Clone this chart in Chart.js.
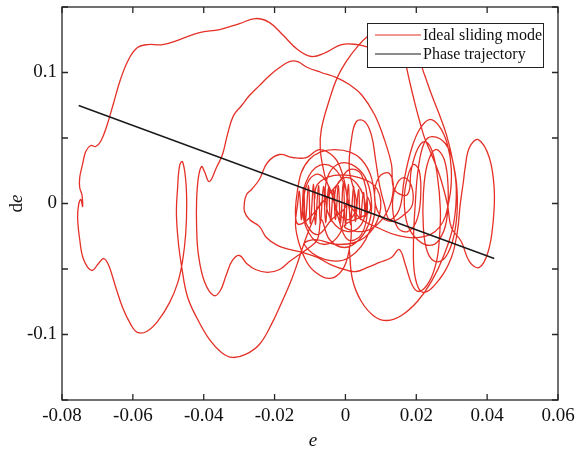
<!DOCTYPE html>
<html>
<head>
<meta charset="utf-8">
<script src="https://cdn.jsdelivr.net/npm/chart.js@4.4.0/dist/chart.umd.min.js"></script>
<style>
  html, body { margin: 0; padding: 0; background: #fff; }
  canvas { display: block; }
</style>
</head>
<body>
<canvas id="phase-chart" width="576" height="450"></canvas>
<script>
// e / de samples, one array pair per stretch of the red curve
const outerE = [0.0011, 0.0020, 0.0045, 0.0082, 0.0118, 0.0158, 0.0203, 0.0243, 0.0279, 0.0305,
  0.0313, 0.0302, 0.0285, 0.0265, 0.0243, 0.0223, 0.0209, 0.0186, 0.0152, 0.0110,
  0.0073, 0.0034, -0.0011, -0.0056, -0.0096, -0.0135, -0.0175, -0.0214, -0.0254, -0.0299,
  -0.0355, -0.0412, -0.0468, -0.0516, -0.0558, -0.0587, -0.0612, -0.0635, -0.0654, -0.0674,
  -0.0691, -0.0705, -0.0719, -0.0733, -0.0742, -0.0750, -0.0750, -0.0744, -0.0742, -0.0742,
  -0.0747, -0.0753, -0.0756, -0.0750, -0.0739, -0.0716, -0.0697, -0.0682, -0.0668, -0.0649,
  -0.0629, -0.0606, -0.0587, -0.0561, -0.0530, -0.0496, -0.0474, -0.0460, -0.0451, -0.0448,
  -0.0451, -0.0460, -0.0468, -0.0474, -0.0477, -0.0471, -0.0462, -0.0446, -0.0420, -0.0384,
  -0.0350, -0.0319, -0.0282, -0.0243, -0.0209, -0.0180, -0.0152, -0.0130, -0.0113, -0.0093,
  -0.0073, -0.0045];
const outerDe = [-0.0351, -0.0580, -0.0748, -0.0862, -0.0893, -0.0855, -0.0748, -0.0595, -0.0389, -0.0160,
  0.0107, 0.0336, 0.0526, 0.0679, 0.0832, 0.0984, 0.1083, 0.1160, 0.1190, 0.1198,
  0.1190, 0.1213, 0.1213, 0.1152, 0.1122, 0.1175, 0.1282, 0.1381, 0.1412, 0.1373,
  0.1328, 0.1305, 0.1251, 0.1213, 0.1213, 0.1190, 0.1099, 0.0946, 0.0771, 0.0588,
  0.0473, 0.0435, 0.0443, 0.0397, 0.0298, 0.0198, 0.0122, 0.0069, 0.0023, -0.0023,
  0.0031, -0.0008, -0.0107, -0.0275, -0.0427, -0.0511, -0.0458, -0.0420, -0.0473, -0.0633,
  -0.0794, -0.0923, -0.0984, -0.0977, -0.0900, -0.0755, -0.0610, -0.0443, -0.0237, -0.0008,
  0.0183, 0.0320, 0.0290, 0.0107, -0.0084, -0.0313, -0.0488, -0.0710, -0.0870, -0.1038,
  -0.1137, -0.1175, -0.1152, -0.1076, -0.0923, -0.0755, -0.0580, -0.0412, -0.0275, -0.0137,
  -0.0008, 0.0069];

const riseE = [-0.0059, -0.0071, -0.0068, -0.0045, -0.0023, 0.0006, 0.0034, 0.0059, 0.0096, 0.0130,
  0.0152, 0.0166, 0.0180, 0.0197, 0.0212, 0.0223, 0.0237, 0.0265, 0.0288];
const riseDe = [0.0221, 0.0412, 0.0565, 0.0794, 0.0961, 0.1099, 0.1198, 0.1267, 0.1328, 0.1320,
  0.1236, 0.1114, 0.0946, 0.0755, 0.0603, 0.0504, 0.0412, 0.0221, -0.0008];

const rightE = [0.0299, 0.0327, 0.0350, 0.0378, 0.0403, 0.0417, 0.0420, 0.0406, 0.0375, 0.0350,
  0.0338, 0.0333, 0.0324, 0.0316, 0.0299, 0.0265, 0.0220, 0.0197, 0.0192, 0.0197,
  0.0206, 0.0223, 0.0245, 0.0282, 0.0305, 0.0316, 0.0307, 0.0282, 0.0254, 0.0231,
  0.0220, 0.0220, 0.0231, 0.0254, 0.0279, 0.0290, 0.0285, 0.0265, 0.0237, 0.0203,
  0.0175, 0.0166, 0.0175, 0.0192, 0.0209, 0.0212, 0.0200, 0.0175, 0.0147, 0.0133,
  0.0141, 0.0164, 0.0186, 0.0189];
const rightDe = [-0.0183, -0.0290, -0.0443, -0.0488, -0.0366, -0.0137, 0.0107, 0.0351, 0.0488, 0.0427,
  0.0275, 0.0168, -0.0008, -0.0214, -0.0412, -0.0580, -0.0679, -0.0565, -0.0313, -0.0008,
  0.0275, 0.0465, 0.0511, 0.0458, 0.0298, 0.0031, -0.0237, -0.0412, -0.0443, -0.0366,
  -0.0183, 0.0069, 0.0298, 0.0412, 0.0336, 0.0107, -0.0137, -0.0275, -0.0320, -0.0275,
  -0.0160, 0.0031, 0.0198, 0.0298, 0.0244, 0.0031, -0.0137, -0.0214, -0.0183, -0.0031,
  0.0122, 0.0198, 0.0137, -0.0008];

const centerE = [0.0166, 0.0130, 0.0096, 0.0082, 0.0096, 0.0124, 0.0135, 0.0118, 0.0079, 0.0034, -0.0003,
  0.0068, 0.0062, 0.0056, 0.0051, 0.0042, 0.0037, 0.0028, 0.0023, 0.0014, 0.0008, 0.0000, -0.0006, -0.0014, -0.0020,
  -0.0028, -0.0034, -0.0042, -0.0048, -0.0056, -0.0062, -0.0071, -0.0076, -0.0085, -0.0090, -0.0099, -0.0104, -0.0113, -0.0118, -0.0124, -0.0130,
  -0.0135, -0.0141, -0.0130, -0.0110, -0.0087, -0.0045, -0.0008, 0.0011, 0.0017, 0.0006, -0.0008, -0.0031, -0.0073, -0.0110, -0.0149,
  -0.0186, -0.0220, -0.0243, -0.0265, -0.0279, -0.0285, -0.0285, -0.0271, -0.0243, -0.0223, -0.0192, -0.0158, -0.0121, -0.0079, -0.0037, 0.0006, 0.0031, 0.0062, 0.0096, 0.0130, 0.0152,
  0.0169, 0.0189, 0.0209, 0.0237, 0.0257, 0.0265, 0.0268, 0.0259, 0.0243, 0.0223, 0.0203, 0.0186, 0.0175];
const centerDe = [-0.0084, -0.0137, -0.0084, 0.0069, 0.0206, 0.0229, 0.0107, -0.0061, -0.0183, -0.0214, -0.0168,
  -0.0061, 0.0046, -0.0099, 0.0084, -0.0122, 0.0107, -0.0137, 0.0130, -0.0160, 0.0145, -0.0168, 0.0153, -0.0153, 0.0137,
  -0.0122, 0.0107, -0.0137, 0.0122, -0.0145, 0.0130, -0.0153, 0.0137, -0.0160, 0.0145, -0.0153, 0.0137, -0.0137, 0.0122, -0.0122, 0.0092,
  -0.0008, -0.0160, -0.0313, -0.0443, -0.0519, -0.0572, -0.0504, -0.0351, -0.0183, 0.0031, 0.0221, 0.0351, 0.0412, 0.0351, 0.0351,
  0.0374, 0.0313, 0.0183, 0.0107, 0.0069, 0.0008, -0.0061, -0.0122, -0.0175, -0.0259, -0.0320, -0.0351, -0.0374, -0.0412, -0.0473, -0.0511, -0.0519, -0.0488, -0.0450, -0.0412, -0.0351,
  -0.0465, -0.0626, -0.0671, -0.0595, -0.0443, -0.0275, -0.0046, 0.0221, 0.0412, 0.0473, 0.0412, 0.0259, 0.0069];

const upperE = [0.0138, 0.0130, 0.0110, 0.0082, 0.0045, 0.0011, -0.0025, -0.0068, -0.0107, -0.0135,
  -0.0158, -0.0186, -0.0214, -0.0243, -0.0271, -0.0293, -0.0316, -0.0333, -0.0347, -0.0364,
  -0.0384, -0.0398, -0.0406, -0.0415, -0.0420, -0.0420, -0.0415, -0.0398, -0.0372, -0.0353,
  -0.0336, -0.0319, -0.0299, -0.0279, -0.0254, -0.0220, -0.0186, -0.0158, -0.0130, -0.0102,
  -0.0079, -0.0068];
const upperDe = [0.0107, 0.0298, 0.0488, 0.0679, 0.0832, 0.0908, 0.0961, 0.1000, 0.1038, 0.1083,
  0.1083, 0.1038, 0.0977, 0.0900, 0.0824, 0.0748, 0.0671, 0.0526, 0.0374, 0.0275,
  0.0168, 0.0244, 0.0282, 0.0198, 0.0031, -0.0183, -0.0389, -0.0595, -0.0702, -0.0664,
  -0.0542, -0.0435, -0.0397, -0.0458, -0.0504, -0.0526, -0.0504, -0.0443, -0.0389, -0.0336,
  -0.0275, -0.0122];

const coreE = [-0.0045, -0.0003, 0.0039, 0.0068, 0.0073, 0.0056, 0.0017, -0.0023, -0.0051, -0.0056,
  -0.0037, 0.0006, 0.0045, 0.0056, 0.0034, -0.0003, -0.0028, -0.0023, 0.0011, 0.0031,
  0.0011, 0.0017, 0.0031, 0.0054, 0.0073, 0.0085, 0.0096, 0.0110, 0.0124, 0.0152,
  0.0166, 0.0186, 0.0209, 0.0237, 0.0265, 0.0288, 0.0299, 0.0293];
const coreDe = [-0.0275, -0.0336, -0.0275, -0.0137, 0.0031, 0.0198, 0.0298, 0.0298, 0.0198, 0.0031,
  -0.0137, -0.0214, -0.0160, -0.0008, 0.0145, 0.0198, 0.0107, -0.0061, -0.0122, -0.0008,
  0.0259, 0.0488, 0.0626, 0.0626, 0.0526, 0.0336, 0.0145, -0.0008, -0.0122, -0.0046,
  0.0183, 0.0412, 0.0565, 0.0641, 0.0588, 0.0450, 0.0259, 0.0031];

const swirlE = [0.0265, 0.0209, 0.0147, 0.0090, 0.0045,
  0.0003, -0.0014, -0.0059, -0.0104, -0.0121, -0.0104, -0.0059, -0.0014, 0.0003,
  -0.0039, -0.0079, -0.0113, -0.0118, -0.0102, -0.0073, -0.0045,
  -0.0023, 0.0006, 0.0045, 0.0062, 0.0045, 0.0011, -0.0023,
  -0.0130, -0.0135, -0.0102, -0.0031, 0.0045, 0.0082, 0.0068, 0.0011, -0.0059, -0.0116,
  -0.0087, -0.0017, 0.0054, 0.0096, 0.0090, 0.0039, -0.0031, -0.0079, -0.0087];
const swirlDe = [-0.0183, -0.0259, -0.0244, -0.0183, -0.0122,
  -0.0008, -0.0221, -0.0313, -0.0221, -0.0008, 0.0206, 0.0298, 0.0206, -0.0008,
  -0.0122, -0.0237, -0.0137, 0.0031, 0.0183, 0.0221, 0.0122,
  -0.0084, -0.0275, -0.0237, -0.0008, 0.0221, 0.0259, 0.0145,
  -0.0160, 0.0107, 0.0336, 0.0412, 0.0336, 0.0069, -0.0214, -0.0412, -0.0427, -0.0313,
  -0.0275, -0.0313, -0.0259, -0.0084, 0.0107, 0.0198, 0.0214, 0.0145, 0.0031];

// black straight line
const phaseE = [-0.0753, 0.0420];
const phaseDe = [0.0748, -0.0420];

const labeledDe = [-0.1, 0, 0.1];

const serif = "'Liberation Serif', 'Times New Roman', serif";
const red = 'rgb(228, 48, 38)';

const toPoints = (es, ds) => es.map((e, i) => ({ x: e, y: ds[i] }));
const slidingPoints = [
  ...toPoints(outerE, outerDe),
  ...toPoints(riseE, riseDe),
  ...toPoints(rightE, rightDe),
  ...toPoints(centerE, centerDe),
  ...toPoints(upperE, upperDe),
  ...toPoints(coreE, coreDe),
  ...toPoints(swirlE, swirlDe),
];
const phasePoints = toPoints(phaseE, phaseDe);

const fmt = v => {
  const r = Math.round(v * 100) / 100;
  return r === 0 ? '0' : String(r);
};

// box, inward ticks, legend and axis titles
const framePlugin = {
  id: 'frame',
  afterDraw(chart) {
    const { ctx, chartArea: a, scales: { x, y } } = chart;
    ctx.save();
    ctx.strokeStyle = '#262626';
    ctx.lineWidth = 1.3;
    ctx.strokeRect(a.left, a.top, a.right - a.left, a.bottom - a.top);
    ctx.beginPath();
    x.ticks.forEach(t => {
      const p = x.getPixelForValue(t.value);
      ctx.moveTo(p, a.bottom); ctx.lineTo(p, a.bottom - 6);
      ctx.moveTo(p, a.top); ctx.lineTo(p, a.top + 6);
    });
    y.ticks.forEach(t => {
      const p = y.getPixelForValue(t.value);
      ctx.moveTo(a.left, p); ctx.lineTo(a.left + 6, p);
      ctx.moveTo(a.right, p); ctx.lineTo(a.right - 6, p);
    });
    ctx.stroke();

    // legend box
    const bx = a.right - 191, by = a.top + 16, bw = 176, bh = 44;
    ctx.fillStyle = '#fff';
    ctx.fillRect(bx, by, bw, bh);
    ctx.lineWidth = 1;
    ctx.strokeStyle = '#222';
    ctx.strokeRect(bx + 0.5, by + 0.5, bw, bh);
    ctx.font = `16px ${serif}`;
    ctx.textAlign = 'left';
    ctx.textBaseline = 'middle';
    chart.data.datasets.forEach((ds, i) => {
      const ly = by + 12 + i * 19;
      ctx.beginPath();
      ctx.strokeStyle = ds.borderColor;
      ctx.lineWidth = 1.2;
      ctx.moveTo(bx + 8, ly);
      ctx.lineTo(bx + 54, ly);
      ctx.stroke();
      ctx.fillStyle = '#111';
      ctx.fillText(ds.label, bx + 56, ly + 1);
    });

    // axis titles
    ctx.fillStyle = '#111';
    ctx.textBaseline = 'alphabetic';
    ctx.textAlign = 'center';
    ctx.font = `italic 19px ${serif}`;
    ctx.fillText('e', (a.left + a.right) / 2 + 3, 446);

    ctx.translate(22, (a.top + a.bottom) / 2);
    ctx.rotate(-Math.PI / 2);
    ctx.textAlign = 'left';
    ctx.font = `19px ${serif}`;
    const wd = ctx.measureText('d').width;
    ctx.font = `italic 19px ${serif}`;
    const we = ctx.measureText('e').width;
    const sx = -(wd + we) / 2;
    ctx.font = `19px ${serif}`;
    ctx.fillText('d', sx, 0);
    ctx.font = `italic 19px ${serif}`;
    ctx.fillText('e', sx + wd, 0);
    ctx.restore();
  }
};

new Chart(document.getElementById('phase-chart'), {
  type: 'scatter',
  data: {
    datasets: [
      {
        label: 'Ideal sliding mode',
        data: slidingPoints,
        showLine: true,
        borderColor: red,
        borderWidth: 1.3,
        pointRadius: 0,
        tension: 0.4,
        order: 2,
      },
      {
        label: 'Phase trajectory',
        data: phasePoints,
        showLine: true,
        borderColor: '#1a1a1a',
        borderWidth: 1.4,
        pointRadius: 0,
        order: 1,
      },
    ],
  },
  options: {
    responsive: false,
    animation: false,
    devicePixelRatio: 1,
    layout: { padding: { left: 0, right: 18, top: 7, bottom: 0 } },
    plugins: { legend: { display: false }, tooltip: { enabled: false } },
    scales: {
      x: {
        type: 'linear',
        min: -0.08,
        max: 0.06,
        grid: { display: false, drawTicks: false },
        border: { display: false },
        ticks: {
          stepSize: 0.02,
          maxRotation: 0,
          autoSkip: false,
          padding: 5,
          color: '#111',
          font: { family: serif, size: 19 },
          callback: v => fmt(v),
        },
        afterFit: s => { s.height = 50; s.paddingLeft = 0; s.paddingRight = 0; },
      },
      y: {
        type: 'linear',
        min: -0.15,
        max: 0.15,
        grid: { display: false, drawTicks: false },
        border: { display: false },
        ticks: {
          stepSize: 0.05,
          autoSkip: false,
          padding: 5,
          color: '#111',
          font: { family: serif, size: 19 },
          callback: v => labeledDe.some(l => Math.abs(l - v) < 1e-6) ? fmt(v) : '',
        },
        afterFit: s => { s.width = 62; s.paddingTop = 0; s.paddingBottom = 0; },
      },
    },
  },
  plugins: [framePlugin],
});
</script>
</body>
</html>
